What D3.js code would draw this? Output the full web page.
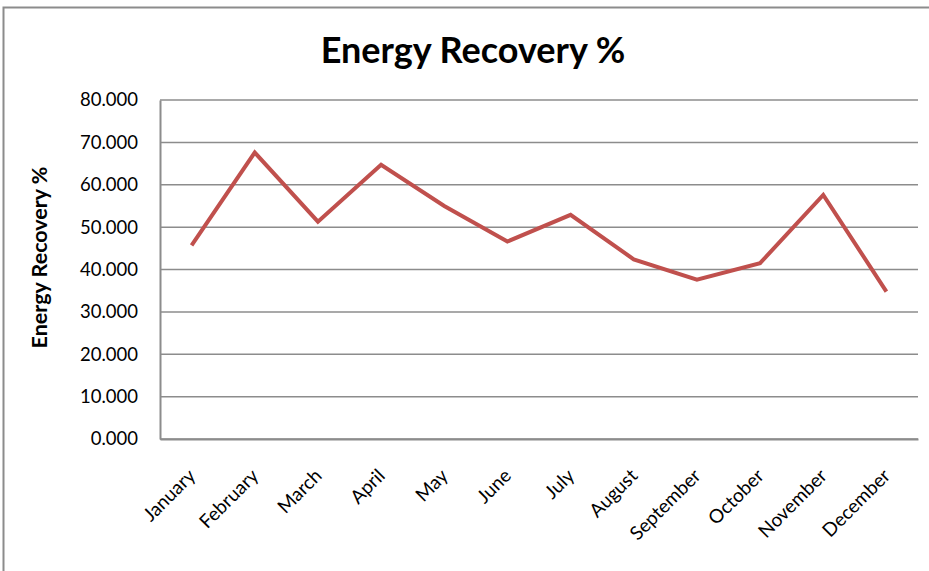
<!DOCTYPE html>
<html>
<head>
<meta charset="utf-8">
<script src="https://cdn.jsdelivr.net/npm/d3@7"></script>
<style>
  body { margin: 0; background: #fff; }
  svg { display: block; font-family: Lato, "Open Sans", sans-serif; }
</style>
</head>
<body>
<div id="chart"></div>
<script>
const months = ["January", "February", "March", "April", "May", "June",
  "July", "August", "September", "October", "November", "December"];
const recovery = [45.7, 67.6, 51.3, 64.7, 55.0, 46.6, 52.9, 42.4, 37.6, 41.5, 57.6, 34.8];
const yTicks = [0, 10, 20, 30, 40, 50, 60, 70, 80];

const width = 929, height = 571;
const margin = { top: 100, right: 11, bottom: 132, left: 160 };

const svg = d3.select("#chart").append("svg")
  .attr("width", width)
  .attr("height", height);

// chart border (left + top only visible)
svg.append("path")
  .attr("d", `M3.5,${height} V7.5 H${width}`)
  .attr("fill", "none")
  .attr("stroke", "#8c8c8c")
  .attr("stroke-width", 2);

const x = d3.scaleBand()
  .domain(months)
  .range([margin.left, width - margin.right]);

const y = d3.scaleLinear()
  .domain([0, 80])
  .range([height - margin.bottom, margin.top]);

// gridlines
svg.append("g")
  .selectAll("line")
  .data(yTicks)
  .join("line")
  .attr("x1", margin.left)
  .attr("x2", width - margin.right)
  .attr("y1", d => y(d))
  .attr("y2", d => y(d))
  .attr("stroke", "#8c8c8c")
  .attr("stroke-width", 1.5);

// y axis
const yAxis = svg.append("g")
  .attr("transform", `translate(${margin.left},0)`)
  .call(d3.axisLeft(y).tickValues(yTicks).tickFormat(d3.format(".3f")).tickSize(0).tickPadding(22));
yAxis.select(".domain").attr("stroke", "#8c8c8c").attr("stroke-width", 2);
yAxis.selectAll("text")
  .attr("font-size", 18.5)
  .attr("fill", "#000")
  .attr("font-family", "Lato, sans-serif");

// x axis
const xAxis = svg.append("g")
  .attr("transform", `translate(0,${height - margin.bottom})`)
  .call(d3.axisBottom(x).tickSize(0).tickPadding(0));
xAxis.select(".domain").attr("stroke", "#8c8c8c").attr("stroke-width", 2);
xAxis.selectAll("text")
  .attr("font-size", 19)
  .attr("fill", "#000")
  .attr("font-family", "Lato, sans-serif")
  .attr("text-anchor", "end")
  .attr("dy", 0)
  .attr("transform", "translate(5,38) rotate(-45)");

// line
const line = d3.line()
  .x((d, i) => x(months[i]) + x.bandwidth() / 2)
  .y(d => y(d));

svg.append("path")
  .datum(recovery)
  .attr("d", line)
  .attr("fill", "none")
  .attr("stroke", "#C0504D")
  .attr("stroke-width", 4)
  .attr("stroke-linejoin", "miter");

// title
svg.append("text")
  .attr("x", 473)
  .attr("y", 63)
  .attr("text-anchor", "middle")
  .attr("font-size", 36)
  .attr("font-weight", "bold")
  .attr("fill", "#000")
  .text("Energy Recovery %");

// y axis title
svg.append("text")
  .attr("transform", `translate(47,${(margin.top + height - margin.bottom) / 2 - 12}) rotate(-90)`)
  .attr("text-anchor", "middle")
  .attr("font-size", 21.5)
  .attr("font-weight", "bold")
  .attr("fill", "#000")
  .text("Energy Recovery %");
</script>
</body>
</html>
